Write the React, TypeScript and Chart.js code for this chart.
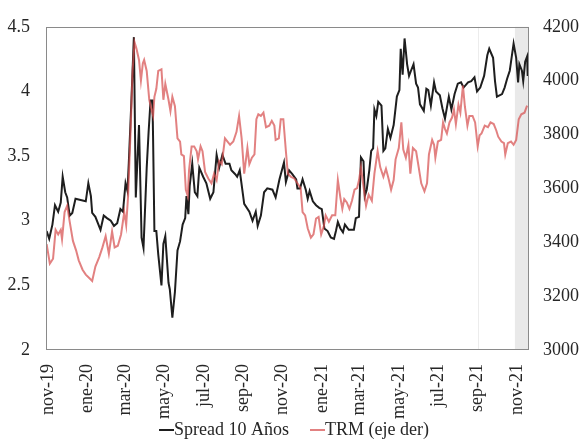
import { useEffect, useRef } from "react";
import { Chart, registerables } from "chart.js";

Chart.register(...registerables);

// Days counted from 2019-11-01
const tickDays = [0, 61, 121, 182, 243, 305, 366, 427, 486, 547, 608, 670, 731];
const tickLabels = [
  "nov-19", "ene-20", "mar-20", "may-20", "jul-20", "sep-20", "nov-20",
  "ene-21", "mar-21", "may-21", "jul-21", "sep-21", "nov-21",
];
const shadeStartDay = 728;
const markerLineDay = 670;

const spreadDays = [
  -2, 2, 7, 11, 16, 20, 23, 27, 30, 34, 38, 43, 51, 59, 63, 67, 69, 74, 82, 87, 92, 98, 103, 108, 113, 117,
  121, 124, 126, 130, 134, 137, 142, 146, 149, 154, 157, 160, 163, 164, 166, 169, 172, 177, 180, 183, 188,
  190, 194, 198, 202, 206, 210, 214, 216, 219, 221, 225, 229, 233, 236, 242, 247, 253, 258, 263, 267, 272,
  277, 283, 286, 292, 295, 299, 306, 314, 319, 324, 327, 332, 337, 342, 350, 355, 361, 368, 371, 376, 381,
  387, 389, 393, 397, 402, 405, 408, 413, 418, 423, 427, 431, 436, 441, 446, 449, 452, 456, 460, 463, 469,
  477, 480, 485, 488, 492, 494, 497, 501, 504, 507, 509, 512, 515, 520, 523, 526, 530, 534, 539, 544, 548,
  550, 553, 556, 560, 563, 566, 570, 574, 577, 580, 586, 590, 593, 597, 602, 605, 611, 615, 619, 625, 629,
  634, 639, 644, 648, 655, 660, 665, 669, 674, 680, 685, 688, 694, 697, 700, 704, 708, 712, 716, 720, 722,
  726, 730, 733, 735, 739, 741, 744, 747, 748,
];
const spreadValues = [
  2.92, 2.86, 2.97, 3.12, 3.07, 3.14, 3.34, 3.22, 3.18, 3.04, 3.06, 3.17, 3.16, 3.15, 3.29, 3.19, 3.06, 3.03,
  2.93, 3.04, 3.02, 3.0, 2.96, 2.98, 3.09, 3.07, 3.29, 3.23, 3.44, 3.91, 4.42, 3.18, 3.74, 2.87, 2.79, 3.41,
  3.69, 3.93, 3.93, 3.62, 2.92, 2.92, 2.74, 2.5, 2.82, 2.88, 2.52, 2.47, 2.25, 2.45, 2.77, 2.84, 2.97, 3.02,
  3.19, 3.05, 3.27, 3.44, 3.22, 3.19, 3.41, 3.34, 3.29, 3.17, 3.22, 3.51, 3.41, 3.51, 3.44, 3.44, 3.39, 3.36,
  3.34, 3.39, 3.13, 3.07, 3.0, 3.07, 2.96, 3.04, 3.22, 3.25, 3.24, 3.18, 3.32, 3.45, 3.3, 3.39, 3.36, 3.32,
  3.25, 3.25, 3.32, 3.24, 3.17, 3.23, 3.15, 3.12, 3.1, 3.09, 2.94, 2.92, 2.87, 2.86, 2.92, 2.99, 2.94, 2.91,
  2.97, 2.93, 2.93, 3.02, 3.03, 3.49, 3.46, 3.19, 3.24, 3.39, 3.54, 3.56, 3.86, 3.81, 3.92, 3.89, 3.54, 3.56,
  3.71, 3.64, 3.74, 3.96, 4.01, 4.33, 4.13, 4.41, 4.21, 4.12, 4.16, 4.21, 4.06, 4.03, 3.9, 3.85, 4.02, 4.01,
  3.89, 4.07, 4.0, 3.97, 3.87, 3.79, 3.96, 3.86, 3.98, 4.06, 4.07, 4.03, 4.07, 4.08, 4.11, 4.0, 4.03, 4.12,
  4.28, 4.33, 4.26, 4.08, 3.96, 3.97, 3.98, 4.03, 4.1, 4.16, 4.23, 4.37, 4.26, 4.07, 4.21, 4.16, 4.08, 4.23,
  4.27, 4.12,
];

const trmDays = [
  -2, 3, 8, 12, 16, 20, 22, 26, 30, 34, 39, 44, 48, 54, 59, 64, 69, 74, 80, 85, 90, 95, 100, 104, 109, 114,
  119, 122, 125, 129, 132, 135, 138, 142, 145, 148, 150, 154, 158, 162, 164, 166, 169, 172, 177, 180, 183,
  188, 191, 194, 198, 202, 206, 208, 212, 215, 218, 220, 224, 228, 232, 234, 238, 241, 245, 250, 255, 259,
  263, 267, 271, 276, 280, 284, 289, 294, 298, 302, 306, 311, 314, 318, 322, 325, 328, 332, 336, 340, 345,
  349, 353, 355, 360, 363, 367, 371, 374, 379, 384, 389, 394, 397, 401, 405, 410, 414, 418, 422, 426, 430,
  433, 438, 443, 448, 452, 456, 459, 462, 466, 470, 474, 478, 482, 485, 488, 492, 496, 500, 505, 509, 514,
  518, 523, 527, 531, 535, 539, 542, 547, 551, 554, 558, 562, 565, 569, 574, 578, 582, 587, 591, 594, 599,
  602, 604, 608, 613, 616, 619, 622, 626, 630, 633, 636, 640, 643, 647, 650, 654, 657, 662, 666, 670, 673,
  676, 681, 686, 690, 695, 699, 702, 707, 711, 713, 717, 722, 726, 730, 734, 738, 743, 747,
];
const trmValues = [
  3393, 3321, 3339, 3446, 3429, 3446, 3411, 3512, 3536, 3476, 3405, 3369, 3333, 3298, 3280, 3268, 3256, 3310,
  3345, 3381, 3423, 3357, 3440, 3381, 3387, 3429, 3512, 3464, 3571, 3821, 4036, 4143, 4119, 4077, 4000, 4065,
  4077, 4036, 3929, 3887, 3869, 3940, 3970, 4036, 4042, 3929, 3988, 3929, 3887, 3940, 3905, 3786, 3774, 3726,
  3720, 3595, 3571, 3667, 3756, 3756, 3738, 3708, 3756, 3738, 3661, 3637, 3619, 3655, 3631, 3702, 3690, 3786,
  3774, 3762, 3774, 3810, 3869, 3786, 3655, 3750, 3690, 3714, 3726, 3857, 3875, 3869, 3881, 3827, 3833, 3851,
  3833, 3780, 3786, 3857, 3857, 3738, 3655, 3643, 3637, 3619, 3601, 3512, 3500, 3452, 3417, 3429, 3488, 3494,
  3429, 3458, 3500, 3476, 3500, 3500, 3631, 3565, 3524, 3560, 3548, 3524, 3554, 3595, 3601, 3631, 3679, 3607,
  3536, 3577, 3554, 3655, 3738, 3679, 3643, 3673, 3637, 3595, 3631, 3708, 3750, 3845, 3744, 3714, 3762, 3655,
  3750, 3738, 3679, 3619, 3589, 3619, 3726, 3780, 3762, 3714, 3774, 3780, 3845, 3821, 3804, 3845, 3863, 3893,
  3839, 3911, 3881, 3982, 3905, 3833, 3869, 3869, 3845, 3756, 3797, 3804, 3833, 3827, 3845, 3839, 3815, 3792,
  3774, 3768, 3726, 3768, 3774, 3762, 3780, 3857, 3875, 3881, 3907,
];

const FONT = "'Liberation Serif', 'Times New Roman', serif";
const TEXT = "#262626";
const SPREAD_COLOR = "#1e1e1e";
const TRM_COLOR = "rgba(215, 80, 80, 0.72)";
const LEGEND_ITEMS = [
  { label: "Spread 10 Años", color: SPREAD_COLOR },
  { label: "TRM (eje der)", color: TRM_COLOR },
];

const framePlugin = {
  id: "frame",
  beforeDatasetsDraw(chart: any) {
    const { ctx, chartArea } = chart;
    const x = chart.scales.x;
    ctx.save();
    const sx = x.getPixelForValue(shadeStartDay);
    ctx.fillStyle = "#e9e9e9";
    ctx.fillRect(sx, chartArea.top, chartArea.right - sx, chartArea.bottom - chartArea.top);
    const mx = Math.round(x.getPixelForValue(markerLineDay)) + 0.5;
    ctx.strokeStyle = "#ececec";
    ctx.lineWidth = 1;
    ctx.beginPath();
    ctx.moveTo(mx, chartArea.top);
    ctx.lineTo(mx, chartArea.bottom);
    ctx.stroke();
    ctx.restore();
  },
  afterDraw(chart: any) {
    const { ctx, chartArea } = chart;
    ctx.save();
    ctx.strokeStyle = "#8a8a8a";
    ctx.lineWidth = 1;
    ctx.strokeRect(
      Math.round(chartArea.left) + 0.5,
      Math.round(chartArea.top) + 0.5,
      Math.round(chartArea.right - chartArea.left) - 1,
      Math.round(chartArea.bottom - chartArea.top) - 1
    );
    // legend
    ctx.font = `18px ${FONT}`;
    ctx.textBaseline = "middle";
    ctx.textAlign = "left";
    const lineW = 15;
    const gap = 21;
    const widths = LEGEND_ITEMS.map((it) => ctx.measureText(it.label).width);
    const total = widths.reduce((a, b) => a + b, 0) + lineW * LEGEND_ITEMS.length + gap * (LEGEND_ITEMS.length - 1);
    let cx = 294 - total / 2;
    const cy = 430;
    LEGEND_ITEMS.forEach((it, i) => {
      ctx.strokeStyle = it.color;
      ctx.lineWidth = 2;
      ctx.beginPath();
      ctx.moveTo(cx, cy);
      ctx.lineTo(cx + lineW, cy);
      ctx.stroke();
      ctx.fillStyle = TEXT;
      ctx.fillText(it.label, cx + lineW, cy);
      cx += lineW + widths[i] + gap;
    });
    ctx.restore();
  },
};

export default function App() {
  const ref = useRef<HTMLCanvasElement>(null);
  useEffect(() => {
    const font = { family: FONT, size: 18 };
    const chart = new Chart(ref.current as HTMLCanvasElement, {
      type: "line",
      data: {
        datasets: [
          {
            label: "Spread 10 Años",
            data: spreadDays.map((d, i) => ({ x: d, y: spreadValues[i] })),
            borderColor: SPREAD_COLOR,
            borderWidth: 2,
            pointRadius: 0,
            tension: 0,
            yAxisID: "y",
            order: 1,
          },
          {
            label: "TRM (eje der)",
            data: trmDays.map((d, i) => ({ x: d, y: trmValues[i] })),
            borderColor: TRM_COLOR,
            borderWidth: 2,
            pointRadius: 0,
            tension: 0,
            yAxisID: "y1",
            order: 0,
          },
        ],
      },
      options: {
        responsive: false,
        animation: false,
        layout: { padding: { top: 14, bottom: 20, left: 0, right: 0 } },
        plugins: { legend: { display: false }, tooltip: { enabled: false } },
        scales: {
          x: {
            type: "linear",
            min: -3,
            max: 750,
            grid: { display: false, drawTicks: false },
            border: { display: false },
            afterBuildTicks: (s: any) => {
              s.ticks = tickDays.map((v) => ({ value: v }));
            },
            afterFit: (s: any) => {
              s.height = 70;
            },
            ticks: {
              autoSkip: false,
              minRotation: 90,
              maxRotation: 90,
              padding: 14,
              font,
              color: TEXT,
              callback: (_v: any, i: number) => tickLabels[i],
            },
          },
          y: {
            position: "left",
            min: 2,
            max: 4.5,
            grid: { display: false, drawTicks: false },
            border: { display: false },
            afterFit: (s: any) => {
              s.width = 46;
            },
            ticks: { stepSize: 0.5, padding: 16, font, color: TEXT, callback: (v: any) => String(v) },
          },
          y1: {
            position: "right",
            min: 3000,
            max: 4200,
            grid: { display: false, drawTicks: false },
            border: { display: false },
            afterFit: (s: any) => {
              s.width = 54;
            },
            ticks: { stepSize: 200, padding: 14, font, color: TEXT, callback: (v: any) => String(v) },
          },
        },
      } as any,
      plugins: [framePlugin],
    });
    return () => chart.destroy();
  }, []);
  return (
    <div style={{ position: "fixed", left: 0, top: 0, width: 583, height: 440, background: "#fff" }}>
      <canvas ref={ref} width={583} height={440} style={{ display: "block" }} />
    </div>
  );
}
